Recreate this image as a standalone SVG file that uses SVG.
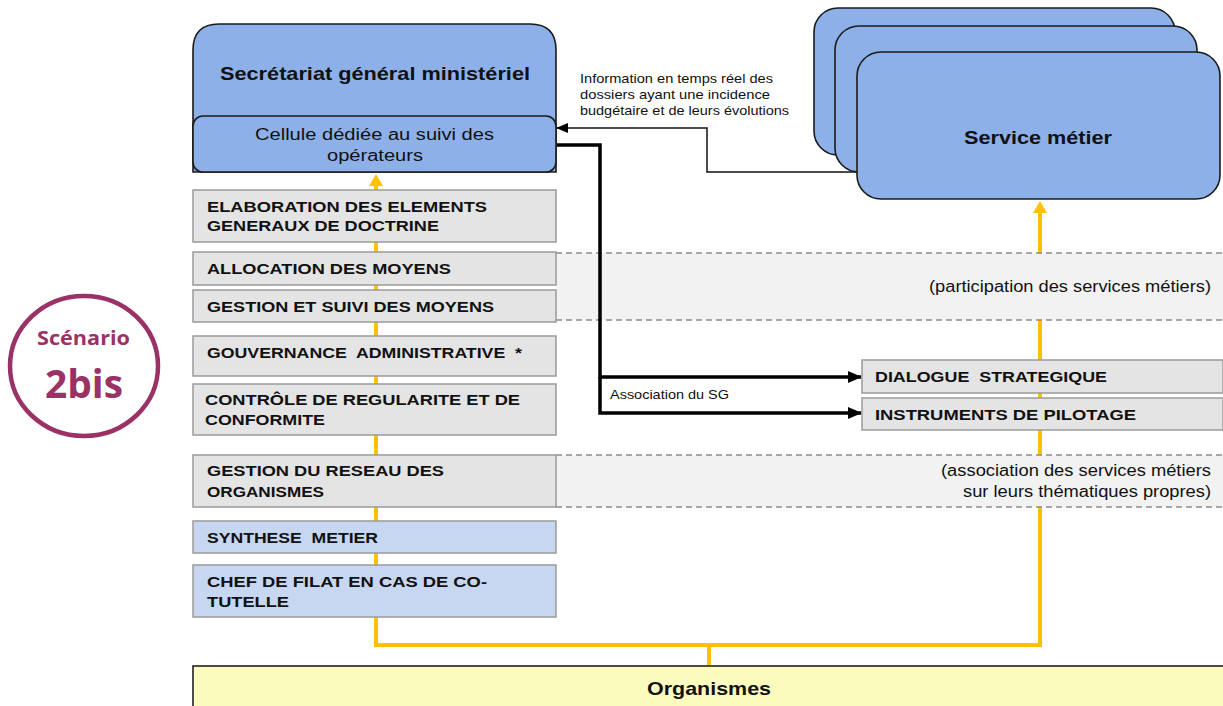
<svg xmlns="http://www.w3.org/2000/svg" width="1223" height="706" viewBox="0 0 1223 706">
  <style>
    .blue { fill: #8eb0e8; stroke: #1a1a1a; stroke-width: 1.6; }
    .task { fill: #e4e4e4; stroke: #9a9a9a; stroke-width: 1.5; }
    .task2 { fill: #c7d7f2; stroke: #9a9a9a; stroke-width: 1.5; }
    .band { fill: #f2f2f2; stroke: none; }
    .dash { stroke: #8c8c8c; stroke-width: 1.5; stroke-dasharray: 6 4; fill: none; }
    text { font-family: "Liberation Sans", Arial, sans-serif; fill: #111; }
    .lbl { font-weight: bold; font-size: 15px; }
    .note { font-size: 16px; }
    .small { font-size: 13px; }
    .title { font-weight: bold; font-size: 18.5px; }
    .badge { font-family: "Open Sans", "Noto Sans", sans-serif; font-weight: bold; fill: #9b3265; }
    .yel { stroke: #ffc000; stroke-width: 4; fill: none; }
    .blk { stroke: #000; stroke-width: 3.5; fill: none; }
  </style>
  <defs>
    <marker id="ab" markerWidth="14" markerHeight="12" refX="13" refY="6" orient="auto" markerUnits="userSpaceOnUse" viewBox="0 0 14 12">
      <path d="M0,0 L14,6 L0,12 z" fill="#000"/>
    </marker>
    <marker id="at" markerWidth="12" markerHeight="10" refX="11" refY="5" orient="auto" markerUnits="userSpaceOnUse" viewBox="0 0 12 10">
      <path d="M0,0 L12,5 L0,10 z" fill="#000"/>
    </marker>
  </defs>

  <!-- yellow reporting lines (run behind the boxes and bands) -->
  <g id="connectors-reporting">
    <polyline class="yel" points="376,620 376,645 1040,645 1040,212"/>
    <line class="yel" x1="376" y1="620" x2="376" y2="184"/>
    <line class="yel" x1="709" y1="666" x2="709" y2="645"/>
    <path d="M369,186 L376,174 L383,186 z" fill="#ffc000"/>
    <path d="M1033,213 L1040,201 L1047,213 z" fill="#ffc000"/>
  </g>

  <!-- dashed bands for shared functions -->
  <g id="band-participation">
    <rect class="band" x="556" y="253" width="667" height="67"/>
    <line class="dash" x1="556" y1="253" x2="1223" y2="253"/>
    <line class="dash" x1="556" y1="320" x2="1223" y2="320"/>
    <text class="note" x="929" y="292" textLength="282" lengthAdjust="spacingAndGlyphs">(participation des services métiers)</text>
  </g>
  <g id="band-association">
    <rect class="band" x="556" y="455" width="667" height="52"/>
    <line class="dash" x1="556" y1="455" x2="1223" y2="455"/>
    <line class="dash" x1="556" y1="507" x2="1223" y2="507"/>
    <text class="note" x="941" y="476" textLength="270" lengthAdjust="spacingAndGlyphs">(association des services métiers</text>
    <text class="note" x="963" y="497" textLength="248" lengthAdjust="spacingAndGlyphs">sur leurs thématiques propres)</text>
  </g>

  <!-- information flows -->
  <g id="connectors">
    <polyline points="857,172 707,172 707,128 557,128" fill="none" stroke="#111" stroke-width="1.5" marker-end="url(#at)"/>
    <polyline class="blk" points="557,145 600,145 600,377 861,377" marker-end="url(#ab)"/>
    <polyline class="blk" points="600,377 600,413 861,413" marker-end="url(#ab)"/>
    <text class="small" x="610" y="399" textLength="119" lengthAdjust="spacingAndGlyphs">Association du SG</text>
    <text class="small" x="580" y="83" textLength="193" lengthAdjust="spacingAndGlyphs">Information en temps réel des</text>
    <text class="small" x="580" y="99" textLength="190" lengthAdjust="spacingAndGlyphs">dossiers ayant une incidence</text>
    <text class="small" x="580" y="115" textLength="209" lengthAdjust="spacingAndGlyphs">budgétaire et de leurs évolutions</text>
  </g>

  <!-- SG -->
  <g id="sg">
    <path class="blue" d="M193,172 L193,50 Q193,24 219,24 L530,24 Q556,24 556,50 L556,172 Z"/>
    <text class="title" x="220" y="80" textLength="310" lengthAdjust="spacingAndGlyphs">Secrétariat général ministériel</text>
  </g>
  <g id="cellule">
    <rect class="blue" x="193" y="116" width="363" height="56" rx="10"/>
    <text class="note" x="255" y="140" font-size="17" textLength="239" lengthAdjust="spacingAndGlyphs">Cellule  dédiée au suivi des</text>
    <text class="note" x="327" y="161" font-size="17" textLength="96" lengthAdjust="spacingAndGlyphs">opérateurs</text>
  </g>

  <!-- service metier stack -->
  <g id="service-metier">
    <rect class="blue" x="814" y="8" width="361" height="147" rx="24"/>
    <rect class="blue" x="835" y="26" width="362" height="146" rx="24"/>
    <rect class="blue" x="857" y="52" width="363" height="147" rx="24"/>
    <text class="title" x="964" y="144" textLength="148" lengthAdjust="spacingAndGlyphs">Service métier</text>
  </g>

  <!-- function boxes -->
  <g id="elaboration">
    <rect class="task" x="193" y="190" width="363" height="52"/>
    <text class="lbl" x="207" y="212" textLength="280" lengthAdjust="spacingAndGlyphs">ELABORATION DES ELEMENTS</text>
    <text class="lbl" x="207" y="231" textLength="232" lengthAdjust="spacingAndGlyphs">GENERAUX DE DOCTRINE</text>
  </g>
  <g id="allocation">
    <rect class="task" x="193" y="252" width="363" height="33"/>
    <text class="lbl" x="207" y="274" textLength="244" lengthAdjust="spacingAndGlyphs">ALLOCATION DES MOYENS</text>
  </g>
  <g id="gestion-suivi">
    <rect class="task" x="193" y="290" width="363" height="32"/>
    <text class="lbl" x="207" y="312" textLength="287" lengthAdjust="spacingAndGlyphs">GESTION ET SUIVI DES MOYENS</text>
  </g>
  <g id="gouvernance">
    <rect class="task" x="193" y="336" width="363" height="40"/>
    <text class="lbl" x="207" y="358" textLength="315" lengthAdjust="spacingAndGlyphs" xml:space="preserve">GOUVERNANCE  ADMINISTRATIVE  *</text>
  </g>
  <g id="controle">
    <rect class="task" x="193" y="384" width="363" height="51"/>
    <text class="lbl" x="205" y="405" textLength="315" lengthAdjust="spacingAndGlyphs">CONTRÔLE DE REGULARITE ET DE</text>
    <text class="lbl" x="205" y="425" textLength="120" lengthAdjust="spacingAndGlyphs">CONFORMITE</text>
  </g>
  <g id="reseau">
    <rect class="task" x="193" y="455" width="363" height="52"/>
    <text class="lbl" x="207" y="476" textLength="237" lengthAdjust="spacingAndGlyphs">GESTION DU RESEAU DES</text>
    <text class="lbl" x="207" y="497" textLength="117" lengthAdjust="spacingAndGlyphs">ORGANISMES</text>
  </g>
  <g id="synthese">
    <rect class="task2" x="193" y="521" width="363" height="32"/>
    <text class="lbl" x="207" y="543" textLength="171" lengthAdjust="spacingAndGlyphs" xml:space="preserve">SYNTHESE  METIER</text>
  </g>
  <g id="chef-filat">
    <rect class="task2" x="193" y="565" width="363" height="52"/>
    <text class="lbl" x="207" y="587" textLength="280" lengthAdjust="spacingAndGlyphs">CHEF DE FILAT EN CAS DE CO-</text>
    <text class="lbl" x="207" y="607" textLength="82" lengthAdjust="spacingAndGlyphs">TUTELLE</text>
  </g>
  <g id="dialogue">
    <rect class="task" x="862" y="360" width="361" height="33"/>
    <text class="lbl" x="875" y="382" textLength="232" lengthAdjust="spacingAndGlyphs" xml:space="preserve">DIALOGUE  STRATEGIQUE</text>
  </g>
  <g id="instruments">
    <rect class="task" x="862" y="398" width="361" height="32"/>
    <text class="lbl" x="875" y="420" textLength="261" lengthAdjust="spacingAndGlyphs">INSTRUMENTS  DE PILOTAGE</text>
  </g>

  <!-- organismes -->
  <g id="organismes">
    <rect x="193" y="666" width="1032" height="44" fill="#fafbbd" stroke="#222" stroke-width="1.6"/>
    <text class="title" x="647" y="695" font-size="17" textLength="124" lengthAdjust="spacingAndGlyphs">Organismes</text>
  </g>

  <!-- scenario badge -->
  <g id="scenario">
    <ellipse cx="84" cy="366" rx="74" ry="70" fill="none" stroke="#9b3265" stroke-width="4.5"/>
    <text class="badge" x="37" y="345" font-size="19.5" textLength="93" lengthAdjust="spacingAndGlyphs">Scénario</text>
    <text class="badge" x="45" y="398" font-size="39" textLength="78" lengthAdjust="spacingAndGlyphs">2bis</text>
  </g>
</svg>
